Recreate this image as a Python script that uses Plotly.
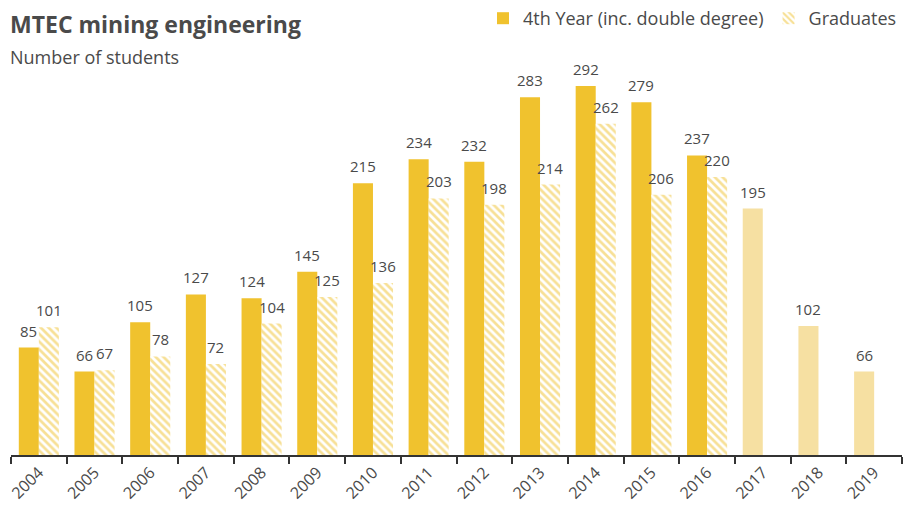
import plotly.graph_objects as go

years = [str(y) for y in range(2004, 2020)]
fourth_year = [85, 66, 105, 127, 124, 145, 215, 234, 232, 283, 292, 279, 237, 195, 102, 66]
graduates = [101, 67, 78, 72, 104, 125, 136, 203, 198, 214, 262, 206, 220, None, None, None]
projected = [False] * 13 + [True] * 3

MAIN = "#F0C22E"
LIGHT = "#F6E0A2"
TEXT = "#4a4a4a"
FONT = "Open Sans"

fig = go.Figure()
fig.add_trace(go.Bar(
    x=years, y=fourth_year, name="4th Year (inc. double degree)",
    marker=dict(color=[LIGHT if p else MAIN for p in projected], line=dict(width=0)),
    offsetgroup="a",
))
fig.add_trace(go.Bar(
    x=years, y=graduates, name="Graduates",
    marker=dict(color="white", line=dict(width=0),
                pattern=dict(shape="\\", fgcolor=MAIN, bgcolor="white", size=5.5, solidity=0.5)),
    offsetgroup="b",
))

annotations = []
for series, shift in ((fourth_year, -10), (graduates, 10)):
    for i, v in enumerate(series):
        if v is None:
            continue
        annotations.append(dict(
            x=i, y=v, xref="x", yref="y", text=str(v), showarrow=False,
            xanchor="center", yanchor="bottom", xshift=shift, yshift=5,
            font=dict(size=15, color=TEXT, family=FONT)))

annotations += [
    dict(text="<b>MTEC mining engineering</b>", xref="paper", yref="paper",
         x=0, y=1, xanchor="left", yanchor="bottom", showarrow=False,
         font=dict(size=23, color=TEXT, family=FONT), xshift=-3, yshift=38),
    dict(text="Number of students", xref="paper", yref="paper",
         x=0, y=1, xanchor="left", yanchor="bottom", showarrow=False,
         font=dict(size=18, color=TEXT, family=FONT), xshift=-3, yshift=9),
]

fig.update_layout(
    width=906, height=505,
    margin=dict(l=11, r=4, t=80, b=50, autoexpand=False),
    paper_bgcolor="white", plot_bgcolor="white",
    barmode="group", bargap=0.28, bargroupgap=0,
    font=dict(family=FONT, color=TEXT),
    showlegend=True,
    legend=dict(orientation="h", x=1.0, xanchor="right", y=1.0, yanchor="top",
                yref="container", font=dict(size=18, color=TEXT, family=FONT),
                itemwidth=30, traceorder="normal", bgcolor="rgba(0,0,0,0)"),
    xaxis=dict(type="category", tickson="boundaries", ticks="outside", ticklen=7,
               tickwidth=2, tickcolor="#333", showline=True, linecolor="#333", linewidth=2,
               tickangle=-45, tickfont=dict(size=16, color=TEXT, family=FONT),
               ticklabelstandoff=0, automargin=False,
               showgrid=False, zeroline=False),
    yaxis=dict(range=[0, 296.7], visible=False, showgrid=False, zeroline=False,
               automargin=False),
    annotations=annotations,
)
fig.write_html("out.html")
